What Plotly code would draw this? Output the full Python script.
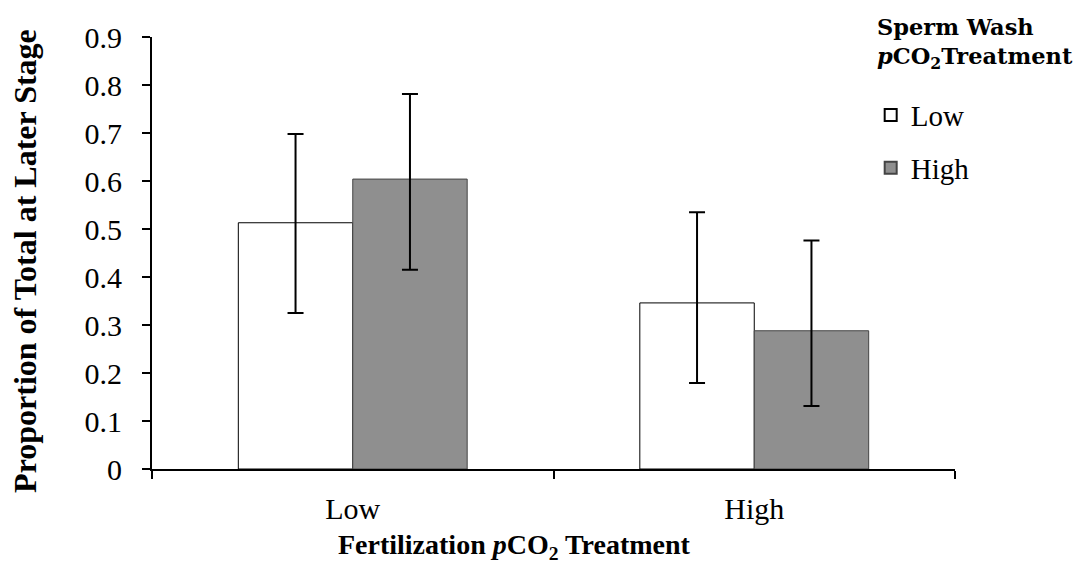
import plotly.graph_objs as go

# Fertilization pCO2 treatment (x categories)
categories = ["Low", "High"]

# Sperm wash pCO2 treatment series
series_names = ["Low", "High"]
low_wash = [0.513, 0.346]
high_wash = [0.604, 0.288]

# error bars (plus / minus)
low_err_plus = [0.185, 0.189]
low_err_minus = [0.188, 0.167]
high_err_plus = [0.177, 0.188]
high_err_minus = [0.189, 0.157]

yticks = [0, 0.1, 0.2, 0.3, 0.4, 0.5, 0.6, 0.7, 0.8, 0.9]
ytick_labels = ["0", "0.1", "0.2", "0.3", "0.4", "0.5", "0.6", "0.7", "0.8", "0.9"]

SERIF = "Liberation Serif, Times New Roman, serif"

fig = go.Figure()

fig.add_trace(go.Bar(
    x=categories,
    y=low_wash,
    name=series_names[0],
    legendgroup="low",
    marker=dict(color="white", line=dict(color="black", width=1)),
    error_y=dict(type="data", symmetric=False, array=low_err_plus,
                 arrayminus=low_err_minus, color="black", thickness=2, width=8),
))
fig.add_trace(go.Bar(
    x=categories,
    y=high_wash,
    name=series_names[1],
    legendgroup="high",
    marker=dict(color="#8f8f8f", line=dict(color="#444444", width=1)),
    error_y=dict(type="data", symmetric=False, array=high_err_plus,
                 arrayminus=high_err_minus, color="black", thickness=2, width=8),
))

# page body has an 8px margin, so the figure is a bit smaller than the window
fig.update_layout(
    width=1076,
    height=564,
    barmode="group",
    bargap=0.43,
    bargroupgap=0,
    plot_bgcolor="white",
    paper_bgcolor="white",
    margin=dict(l=144, r=129, t=21, b=103),
    font=dict(family=SERIF, size=30, color="black"),
    xaxis=dict(
        showline=True, linecolor="black", linewidth=2,
        ticks="outside", tickson="boundaries", ticklen=8, tickwidth=2,
        tickcolor="black", showgrid=False, zeroline=False,
        tickfont=dict(size=30), ticklabelstandoff=12,
    ),
    yaxis=dict(
        range=[0, 0.9],
        tickvals=yticks, ticktext=ytick_labels,
        showline=True, linecolor="black", linewidth=2,
        ticks="outside", ticklen=8, tickwidth=2, tickcolor="black",
        showgrid=False, zeroline=False,
        tickfont=dict(size=30), ticklabelstandoff=14,
    ),
    legend=dict(
        x=0.895, y=0.878, xanchor="left", yanchor="top",
        font=dict(family=SERIF, size=29),
        itemsizing="constant", tracegroupgap=12, traceorder="grouped",
        itemwidth=30,
        bgcolor="rgba(0,0,0,0)",
    ),
    showlegend=True,
)

# axis titles as annotations so they sit where the original puts them
fig.add_annotation(
    text="<b>Fertilization <i>p</i>CO<sub>2</sub> Treatment</b>",
    xref="paper", yref="paper", x=0.451, y=-0.18,
    xanchor="center", yanchor="middle", showarrow=False,
    font=dict(family=SERIF, size=28, color="black"),
)
fig.add_annotation(
    text="<b>Proportion of Total at Later Stage</b>",
    xref="paper", yref="paper", x=-0.158, y=0.482, textangle=-90,
    xanchor="center", yanchor="middle", showarrow=False,
    font=dict(family=SERIF, size=32, color="black"),
)

# legend heading
fig.add_annotation(
    text="<b>Sperm Wash<br><i>p</i>CO<sub>2</sub>Treatment</b>",
    xref="paper", yref="paper", x=0.9, y=1.058,
    xanchor="left", yanchor="top", align="left", showarrow=False,
    font=dict(family="DejaVu Serif, serif", size=22.5, color="black"),
)

fig.write_html("out.html")
